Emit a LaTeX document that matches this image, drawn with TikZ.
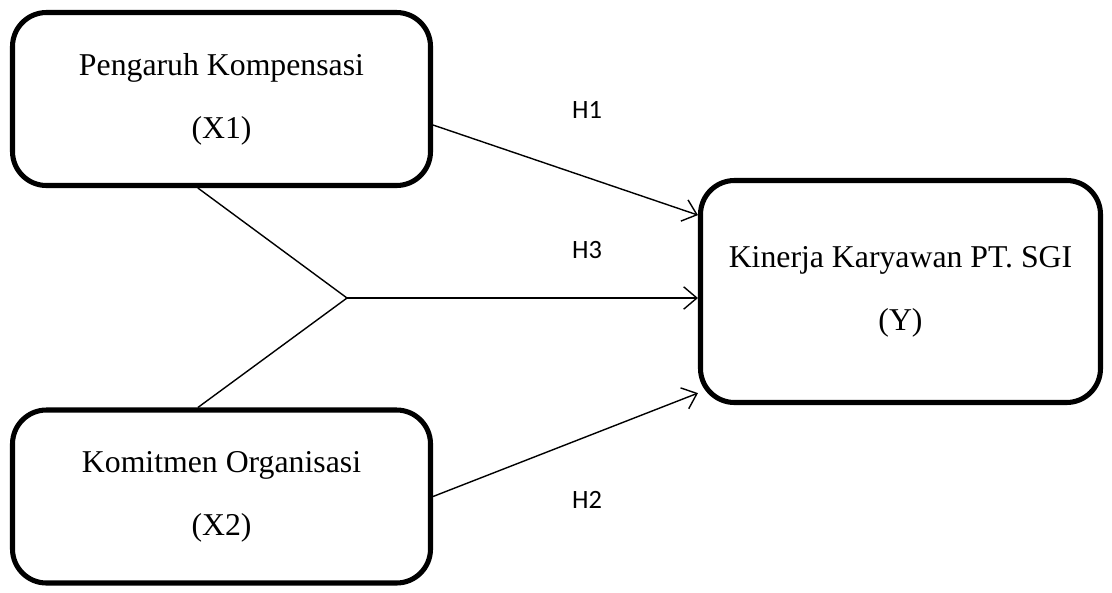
\documentclass[tikz,border=0pt]{standalone}
\usepackage{fontspec}
\setmainfont{Liberation Serif}
\newfontfamily\labelfont{Carlito}
\usetikzlibrary{arrows.meta,positioning,calc}

\begin{document}
\begin{tikzpicture}[
    varbox/.style={rectangle, draw=black, line width=3.6pt, rounded corners=0.85cm, align=center, font=\fontsize{22.6}{44.8}\selectfont},
    arrow/.style={-{Straight Barb[length=3.3mm, width=5.6mm]}, line width=1pt},
    link/.style={line width=1pt},
    hyp/.style={font=\labelfont\fontsize{18.8}{22}\selectfont}
]
    \useasboundingbox (0,0) rectangle (27.8,-14.8);

    \node [varbox, minimum width=10.45cm, minimum height=4.325cm] (x1) at (5.5375,-2.475) {Pengaruh Kompensasi\\(X1)};
    \node [varbox, minimum width=10.45cm, minimum height=4.325cm] (x2) at (5.5375,-12.4125) {Komitmen Organisasi\\(X2)};
    \node [varbox, minimum width=10cm, minimum height=5.55cm] (y) at (22.5125,-7.2875) {Kinerja Karyawan PT. SGI\\(Y)};

    % joint effect
    \coordinate (j) at (8.675,-7.45);
    \draw [link] ([xshift=-0.59cm]x1.south) -- (j);
    \draw [link] ([xshift=-0.59cm]x2.north) -- (j);

    \draw [arrow] ([yshift=-0.65cm]x1.east) -- ([yshift=1.91cm]y.west);
    \draw [arrow] (j) -- (j -| y.west);
    \draw [arrow] (x2.east) -- ([yshift=-2.54cm]y.west);

    \node [hyp] (h1) at (14.675,-2.75) {H1};
    \node [hyp] (h3) at (14.675,-6.25) {H3};
    \node [hyp] (h2) at (14.675,-12.5) {H2};
\end{tikzpicture}
\end{document}
